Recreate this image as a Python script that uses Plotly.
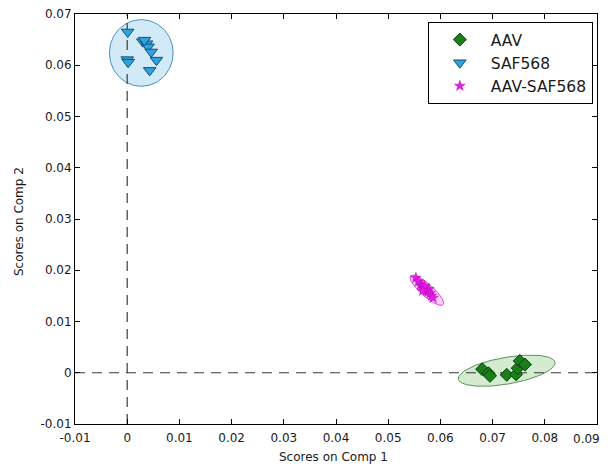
import numpy as np
import plotly.graph_objects as go

# ---- data ----
aav_x = [0.0680, 0.0692, 0.0695, 0.0727, 0.0745, 0.0748, 0.0752, 0.0762]
aav_y = [0.0007, -0.0001, -0.0006, -0.0004, -0.0003, 0.0009, 0.0023, 0.0016]

saf_x = [0.0001, 0.0000, 0.0002, 0.0030, 0.0037, 0.0040, 0.0046, 0.0056, 0.0043, 0.0033]
saf_y = [0.0665, 0.0611, 0.0606, 0.0646, 0.0642, 0.0636, 0.0626, 0.0610, 0.0590, 0.0649]

mix_x = [0.0553, 0.0558, 0.0562, 0.0565, 0.0568, 0.0571, 0.0573, 0.0576,
         0.0578, 0.0580, 0.0583, 0.0586, 0.0569, 0.0566]
mix_y = [0.0185, 0.0178, 0.0172, 0.0168, 0.0165, 0.0163, 0.0160, 0.0158,
         0.0163, 0.0155, 0.0150, 0.0146, 0.0170, 0.0160]

# confidence ellipses: centre x, centre y, semi-major, semi-minor, angle (deg)
ell_aav = [0.0727, 0.0004, 0.0094, 0.0026, 10.0]
ell_saf = [0.0027, 0.0624, 0.0061, 0.0065, 0.0]
ell_mix = [0.0574, 0.0161, 0.0042, 0.0012, -42.0]

x_ticks = [-0.01, 0, 0.01, 0.02, 0.03, 0.04, 0.05, 0.06, 0.07, 0.08, 0.09]
x_labels = ["-0.01", "0", "0.01", "0.02", "0.03", "0.04", "0.05", "0.06", "0.07", "0.08", "0.09"]
y_ticks = [-0.01, 0, 0.01, 0.02, 0.03, 0.04, 0.05, 0.06, 0.07]
y_labels = ["-0.01", "0", "0.01", "0.02", "0.03", "0.04", "0.05", "0.06", "0.07"]

x_title = "Scores on Comp 1"
y_title = "Scores on Comp 2"


def ellipse(p, n=120):
    cx, cy, a, b, ang = p
    t = np.linspace(0, 2 * np.pi, n)
    th = np.deg2rad(ang)
    x = cx + a * np.cos(t) * np.cos(th) - b * np.sin(t) * np.sin(th)
    y = cy + a * np.cos(t) * np.sin(th) + b * np.sin(t) * np.cos(th)
    return x, y


FONT = "DejaVu Sans, Arial, sans-serif"
TXT = "#1a1a1a"
fig = go.Figure()

for p, fill, edge in [(ell_aav, "#d3ebcf", "#5d8f5d"),
                      (ell_saf, "#d2eaf7", "#4a8fbf"),
                      (ell_mix, "#f8d0f8", "#e040e0")]:
    ex, ey = ellipse(p)
    fig.add_trace(go.Scatter(x=ex, y=ey, mode="lines", fill="toself",
                             fillcolor=fill, line=dict(color=edge, width=1),
                             showlegend=False, hoverinfo="skip"))

# dashed reference lines
fig.add_trace(go.Scatter(x=[0, 0], y=[y_ticks[0], y_ticks[-1]], mode="lines",
                         line=dict(color="#3a3a3a", width=1.2, dash="10px,7px"),
                         showlegend=False, hoverinfo="skip"))
fig.add_trace(go.Scatter(x=[x_ticks[0], x_ticks[-1]], y=[0, 0], mode="lines",
                         line=dict(color="#3a3a3a", width=1.2, dash="10px,7px"),
                         showlegend=False, hoverinfo="skip"))

fig.add_trace(go.Scatter(x=aav_x, y=aav_y, mode="markers", name="AAV",
                         marker=dict(symbol="diamond", size=10, color="#1a7f1a",
                                     line=dict(color="#0a3f0a", width=1))))
fig.add_trace(go.Scatter(x=saf_x, y=saf_y, mode="markers", name="SAF568",
                         marker=dict(symbol="triangle-down", size=11, color="#2ea3de",
                                     line=dict(color="#134f78", width=1))))
fig.add_trace(go.Scatter(x=mix_x, y=mix_y, mode="markers", name="AAV-SAF568",
                         marker=dict(symbol="star", size=8, color="#e020e0",
                                     line=dict(color="#c000c0", width=0.5))))

axis_common = dict(showline=True, linecolor="black", linewidth=1, mirror="ticks",
                   ticks="inside", ticklen=5, tickcolor="black", showgrid=False,
                   zeroline=False, automargin=False,
                   tickfont=dict(family=FONT, size=12, color=TXT))

# last x label is drawn separately (right-aligned at the axis end) so it stays inside the page
fig.update_xaxes(range=[x_ticks[0], x_ticks[-1]], tickvals=x_ticks,
                 ticktext=x_labels[:-1] + [""], ticklabelstandoff=3, **axis_common)
fig.update_yaxes(range=[y_ticks[0], y_ticks[-1]], tickvals=y_ticks, ticktext=y_labels,
                 **axis_common)

fig.add_annotation(text=x_labels[-1], xref="x", yref="paper", x=x_ticks[-1], y=0,
                   xanchor="right", yanchor="top", xshift=5, yshift=-6, showarrow=False,
                   font=dict(family=FONT, size=12, color=TXT))

fig.add_annotation(text=x_title, xref="paper", yref="paper", x=0.496, y=-0.0805,
                   xanchor="center", yanchor="middle", showarrow=False,
                   font=dict(family=FONT, size=12, color=TXT))
fig.add_annotation(text=y_title, xref="paper", yref="paper", x=-0.1073, y=0.495,
                   xanchor="center", yanchor="middle", textangle=-90, showarrow=False,
                   font=dict(family=FONT, size=12, color=TXT))

fig.update_layout(
    width=610, height=466,
    margin=dict(l=75, r=13, t=14, b=42),
    paper_bgcolor="white", plot_bgcolor="white",
    legend=dict(x=0.992, y=0.9805, xanchor="right", yanchor="top",
                bordercolor="black", borderwidth=1, bgcolor="white",
                font=dict(family=FONT, size=15.5, color=TXT),
                itemwidth=52),
)

fig.write_html("out.html")
